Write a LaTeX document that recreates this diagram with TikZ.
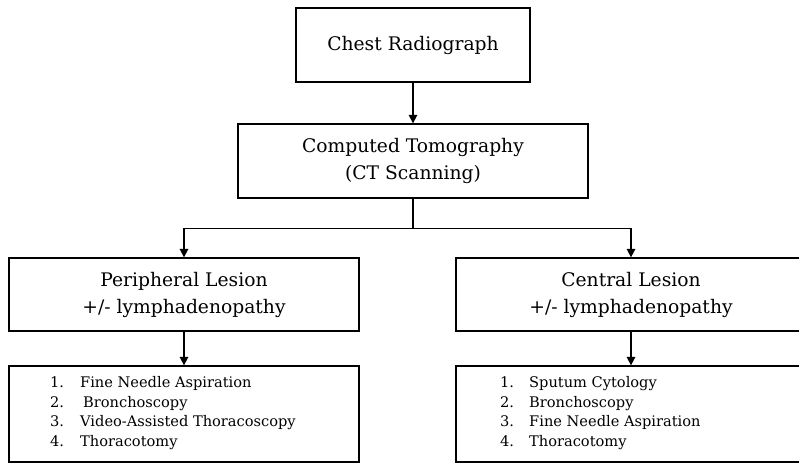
\documentclass[tikz,border=0pt]{standalone}
\usepackage{fontspec}
\setmainfont{DejaVu Serif}
\usetikzlibrary{arrows.meta}
\begin{document}
\begin{tikzpicture}[x=1pt,y=-1pt,
  box/.style={draw, line width=1.3pt, inner sep=0pt, align=center, font=\fontsize{18.7}{27}\selectfont},
  arr/.style={line width=1.6pt, -{Triangle[length=8.5pt,width=8.5pt]}},
  ln/.style={line width=1.6pt},
  listtext/.style={anchor=north west, inner sep=0pt, align=left, font=\fontsize{14.6}{19.7}\selectfont}]
\useasboundingbox (0,0) rectangle (799,464);
\node[box, minimum width=234pt, minimum height=74pt] (cr) at (413,45) {Chest Radiograph};
\node[box, minimum width=350pt, minimum height=74pt] (ct) at (413,161) {Computed Tomography\\(CT Scanning)};
\node[box, minimum width=350pt, minimum height=73pt] (pl) at (184,294.5) {Peripheral Lesion\\+/- lymphadenopathy};
\node[box, minimum width=350pt, minimum height=73pt] (cl) at (631,294.5) {Central Lesion\\+/- lymphadenopathy};
\node[box, minimum width=350pt, minimum height=96pt] (pm) at (184,414) {};
\node[box, minimum width=350pt, minimum height=96pt] (cm) at (631,414) {};
\node[listtext] (pt) at (50,376) {\makebox[30pt][l]{1.}Fine Needle Aspiration\\
\makebox[30pt][l]{2.}\hspace{3pt}Bronchoscopy\\
\makebox[30pt][l]{3.}Video-Assisted Thoracoscopy\\
\makebox[30pt][l]{4.}Thoracotomy};
\node[listtext] (ctxt) at (500,376) {\makebox[29pt][l]{1.}Sputum Cytology\\
\makebox[29pt][l]{2.}Bronchoscopy\\
\makebox[29pt][l]{3.}Fine Needle Aspiration\\
\makebox[29pt][l]{4.}Thoracotomy};
\draw[arr] (cr) -- (ct);
\draw[ln] (ct.south) -- ++(0,30) coordinate (fk);
\draw[arr] (fk) -| (pl.north);
\draw[arr] (fk) -| (cl.north);
\draw[arr] (pl) -- (pm);
\draw[arr] (cl) -- (cm);
\end{tikzpicture}
\end{document}
